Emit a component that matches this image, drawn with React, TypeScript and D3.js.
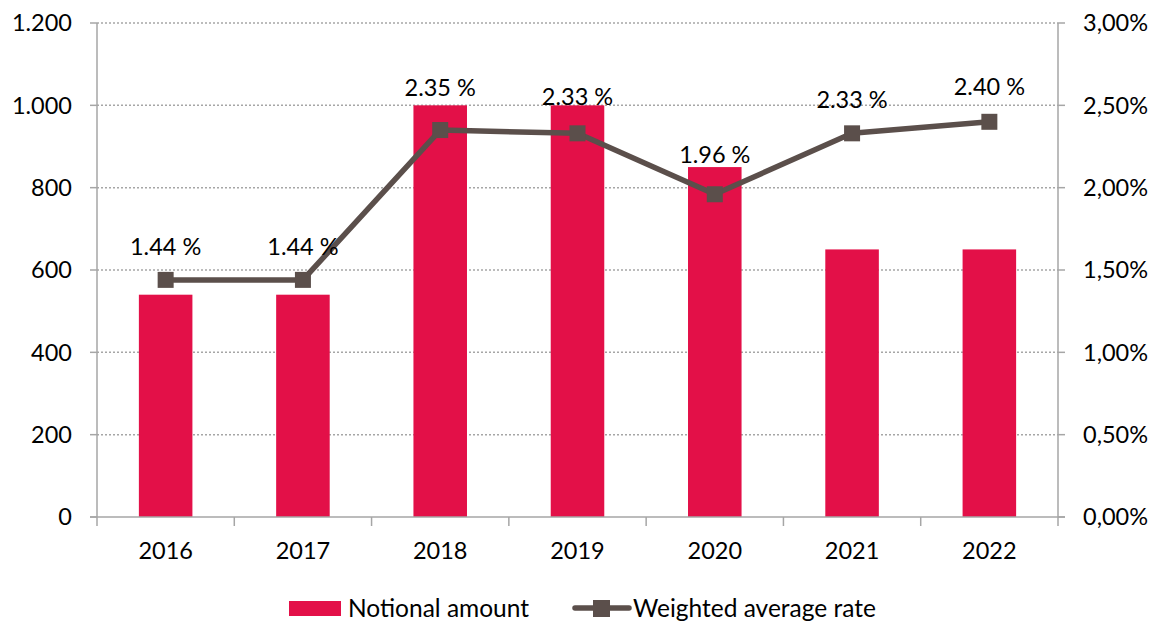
import React from 'react';
import * as d3 from 'd3';

const years = ['2016', '2017', '2018', '2019', '2020', '2021', '2022'];
const notional = [540, 540, 1000, 1000, 850, 650, 650];
const rates = [1.44, 1.44, 2.35, 2.33, 1.96, 2.33, 2.4];
const leftTicks = [0, 200, 400, 600, 800, 1000, 1200];
const rightTicks = [0, 0.5, 1, 1.5, 2, 2.5, 3];
// how far each rate label sits above its marker (px)
const labelLift = [33, 33, 42, 37, 39, 34, 35];

const W = 1159;
const H = 621;
const font = 'Lato, "Open Sans", sans-serif';
const barColor = '#E31048';
const lineColor = '#5B4F4B';
const axisColor = '#A6A6A6';
const fs = 23.5;

const App = () => {
  const left = 97;
  const right = 1058;
  const top = 23;
  const bottom = 517;

  const x = d3.scaleBand().domain(years).range([left, right]).paddingInner(0.61).paddingOuter(0.305);
  const xc = d3.scaleBand().domain(years).range([left, right]);
  const yL = d3.scaleLinear().domain([0, 1200]).range([bottom, top]);
  const yR = d3.scaleLinear().domain([0, 3]).range([bottom, top]);
  const mid = (yr: string) => (xc(yr) as number) + xc.bandwidth() / 2;

  const line = d3.line<number>()
    .x((d, i) => mid(years[i]))
    .y(d => yR(d));

  const fmtL = (v: number) => d3.format(',')(v).replace(',', '.');
  const fmtR = (v: number) => v.toFixed(2).replace('.', ',') + '%';

  return (
    <svg width={W} height={H} style={{ display: 'block', position: 'absolute', left: 0, top: 0 }}>
      <rect width={W} height={H} fill="#fff" />
      {leftTicks.filter(t => t > 0).map(t => (
        <line key={t} x1={left} x2={right} y1={yL(t)} y2={yL(t)}
          stroke="#A6A6A6" strokeWidth={1.5} strokeDasharray="2,2" />
      ))}
      {years.map((yr, i) => (
        <rect key={yr} x={x(yr)} y={yL(notional[i])} width={x.bandwidth()}
          height={bottom - yL(notional[i])} fill={barColor} />
      ))}
      {/* axes */}
      <line x1={left} x2={left} y1={top} y2={bottom} stroke={axisColor} strokeWidth={1.5} />
      <line x1={right} x2={right} y1={top} y2={bottom} stroke={axisColor} strokeWidth={1.5} />
      <line x1={left - 7} x2={right + 7} y1={bottom} y2={bottom} stroke={axisColor} strokeWidth={1.5} />
      {leftTicks.map(t => (
        <g key={'l' + t}>
          <line x1={left - 7} x2={left} y1={yL(t)} y2={yL(t)} stroke={axisColor} strokeWidth={1.5} />
          <text x={72} y={yL(t)} dy="0.35em" textAnchor="end" fontFamily={font} fontSize={fs} fill="#000">{fmtL(t)}</text>
        </g>
      ))}
      {rightTicks.map(t => (
        <g key={'r' + t}>
          <line x1={right} x2={right + 7} y1={yR(t)} y2={yR(t)} stroke={axisColor} strokeWidth={1.5} />
          <text x={1083} y={yR(t)} dy="0.35em" textAnchor="start" fontFamily={font} fontSize={fs} fill="#000">{fmtR(t)}</text>
        </g>
      ))}
      {years.map(yr => (
        <line key={'xt' + yr} x1={xc(yr) as number} x2={xc(yr) as number}
          y1={bottom} y2={bottom + 9} stroke={axisColor} strokeWidth={1.5} />
      ))}
      <line x1={right} x2={right} y1={bottom} y2={bottom + 9} stroke={axisColor} strokeWidth={1.5} />
      {years.map(yr => (
        <text key={'xl' + yr} x={mid(yr)} y={551} dy="0.35em"
          textAnchor="middle" fontFamily={font} fontSize={fs} fill="#000">{yr}</text>
      ))}
      {/* rate line */}
      <path d={line(rates) as string} fill="none" stroke={lineColor} strokeWidth={5.5} strokeLinejoin="round" />
      {rates.map((r, i) => {
        const cx = mid(years[i]);
        return (
          <g key={'m' + i}>
            <rect x={cx - 8} y={yR(r) - 8} width={16} height={16} fill={lineColor} />
            <text x={cx} y={yR(r) - labelLift[i]} dy="0.35em" textAnchor="middle" fontFamily={font} fontSize={fs} fill="#000">
              {r.toFixed(2) + ' %'}
            </text>
          </g>
        );
      })}
      {/* legend */}
      <rect x={289} y={601} width={52} height={15} fill={barColor} />
      <text x={348} y={608} dy="0.35em" fontFamily={font} fontSize={24.5} fill="#000">Notional amount</text>
      <line x1={575} x2={629} y1={608} y2={608} stroke={lineColor} strokeWidth={5.5} strokeLinecap="round" />
      <rect x={593} y={600} width={17} height={17} fill={lineColor} />
      <text x={633} y={608} dy="0.35em" fontFamily={font} fontSize={24.5} fill="#000">Weighted average rate</text>
    </svg>
  );
};

export default App;
